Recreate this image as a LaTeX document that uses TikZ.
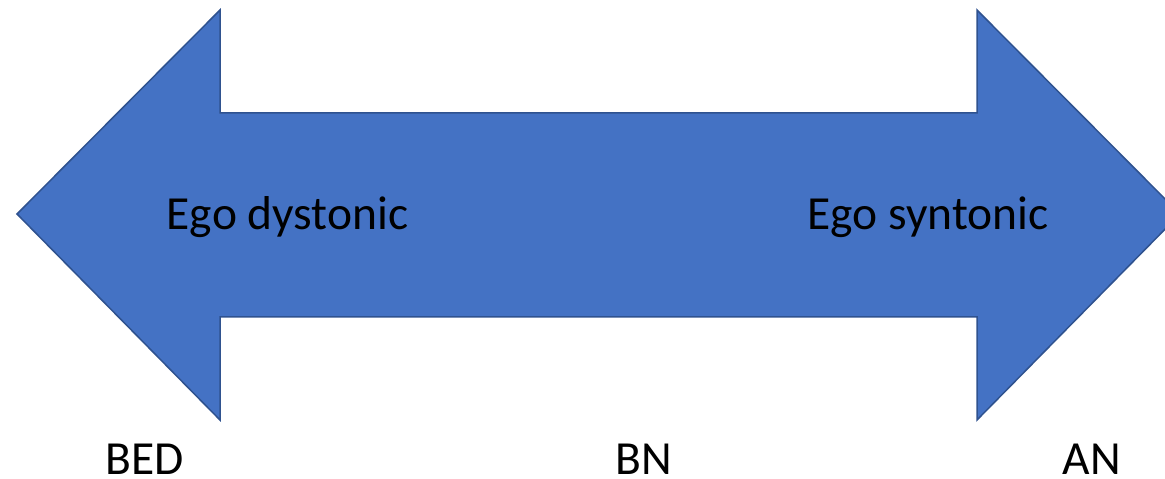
\documentclass[tikz,border=0pt]{standalone}
\usepackage{fontspec}
\setmainfont{Carlito}
\definecolor{arrowfill}{HTML}{4472C4}
\definecolor{arrowline}{HTML}{2F528F}
\begin{document}
\begin{tikzpicture}[x=1pt,y=1pt,
  bigarrow/.style={fill=arrowfill,draw=arrowline,line width=1.5pt,line join=miter},
  lbl/.style={font=\fontsize{47.5}{56}\selectfont,text=black,inner sep=0pt,anchor=base}]
\useasboundingbox (0,0) rectangle (1165,479);
\clip (0,0) rectangle (1165,479);
\coordinate (lt) at (17,265);
\coordinate (rt) at (1180,265);
\draw[bigarrow] (lt) -- (220,469) -- (220,366) -- (977,366) -- (977,469) -- (rt)
  -- (977,59) -- (977,162) -- (220,162) -- (220,59) -- cycle;
\node[lbl] (dys) at (287.5,249) {Ego dystonic};
\node[lbl] (syn) at (928,249) {Ego syntonic};
\node[lbl] (bed) at (144.5,4) {BED};
\node[lbl] (bn) at (643.5,4) {BN};
\node[lbl] (an) at (1092,4) {AN};
\end{tikzpicture}
\end{document}
